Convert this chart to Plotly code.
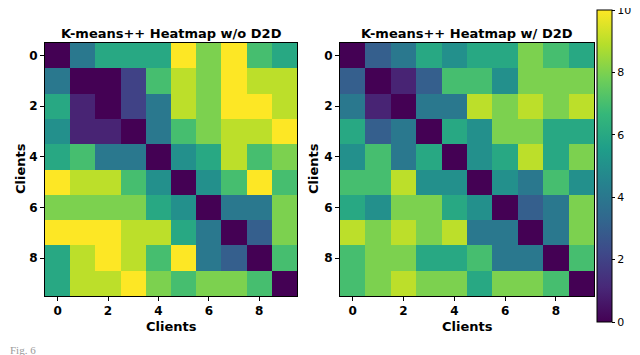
import plotly.graph_objects as go

clients = list(range(10))
tick_vals = [0, 2, 4, 6, 8]
cbar_ticks = [0, 2, 4, 6, 8, 10]

title_wo = "K-means++ Heatmap w/o D2D"
title_w = "K-means++ Heatmap w/ D2D"
axis_label = "Clients"
caption = "Fig. 6"

heat_wo_d2d = [
    [0, 4, 6, 6, 6, 10, 8, 10, 7, 6],
    [4, 0, 0, 2, 7, 9, 8, 10, 9, 9],
    [6, 1, 0, 2, 4, 9, 8, 10, 10, 9],
    [5, 1, 1, 0, 4, 7, 8, 9, 9, 10],
    [6, 7, 4, 4, 0, 5, 6, 9, 7, 8],
    [10, 9, 9, 7, 5, 0, 5, 7, 10, 7],
    [8, 8, 8, 8, 6, 5, 0, 4, 4, 8],
    [10, 10, 10, 9, 9, 6, 4, 0, 3, 8],
    [6, 9, 10, 9, 7, 10, 4, 3, 0, 7],
    [6, 9, 9, 10, 8, 7, 8, 8, 7, 0],
]

heat_w_d2d = [
    [0, 3, 4, 6, 5, 6, 6, 8, 7, 6],
    [3, 0, 1, 3, 7, 7, 5, 8, 8, 8],
    [4, 1, 0, 4, 4, 9, 8, 9, 8, 9],
    [6, 3, 4, 0, 6, 5, 8, 8, 6, 6],
    [5, 7, 4, 6, 0, 5, 6, 9, 6, 8],
    [7, 7, 9, 5, 5, 0, 5, 4, 7, 5],
    [6, 5, 8, 8, 6, 5, 0, 3, 4, 8],
    [9, 8, 9, 8, 9, 4, 4, 0, 4, 8],
    [7, 8, 8, 6, 6, 7, 4, 4, 0, 7],
    [7, 8, 9, 8, 8, 6, 8, 8, 7, 0],
]

W, H = 640, 355
def px(x):
    return x / W
def py(y):
    return 1 - y / H

FONT = "DejaVu Sans"

fig = go.Figure()
fig.add_trace(go.Heatmap(z=heat_wo_d2d, x=clients, y=clients, coloraxis="coloraxis",
                         xaxis="x", yaxis="y", hoverinfo="skip"))
fig.add_trace(go.Heatmap(z=heat_w_d2d, x=clients, y=clients, coloraxis="coloraxis",
                         xaxis="x2", yaxis="y2", hoverinfo="skip"))

ax_common = dict(
    tickmode="array", tickvals=tick_vals, ticktext=[str(v) for v in tick_vals],
    ticks="outside", ticklen=4, tickwidth=1, tickcolor="black",
    showline=True, linecolor="black", linewidth=1, mirror=True,
    showgrid=False, zeroline=False,
    tickfont=dict(family=FONT, size=12, color="black", weight="bold"),
    range=[-0.5, 9.5],
)

y_top, y_bot = 35, 288
fig.update_layout(
    width=W, height=H,
    margin=dict(l=0, r=0, t=0, b=0, autoexpand=False),
    paper_bgcolor="white", plot_bgcolor="white",
    xaxis=dict(domain=[px(37), px(289)], anchor="y", **ax_common),
    yaxis=dict(domain=[py(y_bot), py(y_top)], anchor="x", autorange=False,
               **{**ax_common, "range": [9.5, -0.5]}),
    xaxis2=dict(domain=[px(332), px(586)], anchor="y2", **ax_common),
    yaxis2=dict(domain=[py(y_bot), py(y_top)], anchor="x2", autorange=False,
                **{**ax_common, "range": [9.5, -0.5]}),
    coloraxis=dict(
        colorscale="Viridis", cmin=0, cmax=10,
        colorbar=dict(
            x=px(589), xanchor="left", thickness=15,
            y=py(2), yanchor="top", len=312 / H, lenmode="fraction",
            outlinecolor="black", outlinewidth=1,
            tickmode="array", tickvals=cbar_ticks,
            ticktext=[str(v) for v in cbar_ticks],
            showticklabels=True, ticklabelposition="outside",
            ticklabeloverflow="allow",
            ticks="outside", ticklen=3, tickcolor="black",
            tickfont=dict(family=FONT, size=11, color="black"),
            xpad=0, ypad=0,
        ),
    ),
    showlegend=False,
)

annots = [
    dict(text=title_wo, x=px(163), y=py(25)),
    dict(text=title_w, x=px(459), y=py(25)),
    dict(text=axis_label, x=px(163), y=py(318)),
    dict(text=axis_label, x=px(459), y=py(318)),
    dict(text=axis_label, x=px(12), y=py(161), textangle=-90),
    dict(text=axis_label, x=px(305), y=py(161), textangle=-90),
]
for a in annots:
    fig.add_annotation(
        xref="paper", yref="paper", xanchor="center", yanchor="middle",
        showarrow=False, font=dict(family=FONT, size=13, color="black", weight="bold"),
        **a,
    )

fig.add_annotation(text=caption, xref="paper", yref="paper", x=0, y=py(350),
                   xanchor="left", yanchor="bottom", showarrow=False,
                   font=dict(family="Liberation Serif", size=11, color="#9a9a9a"))

fig.write_html("out.html")
